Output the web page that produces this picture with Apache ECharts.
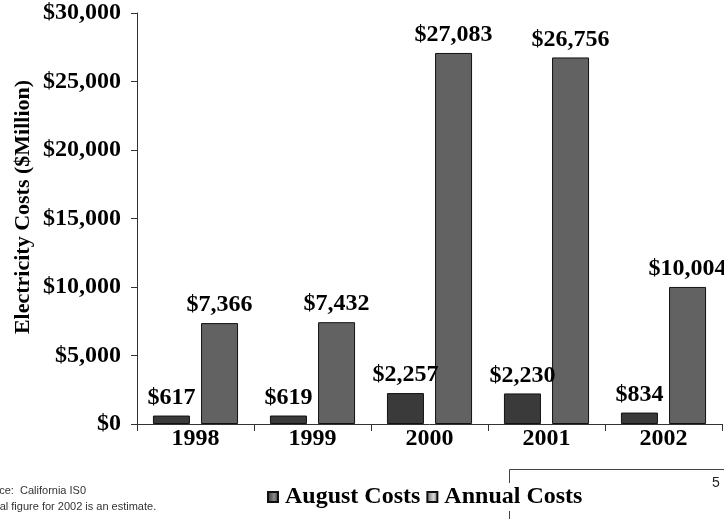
<!DOCTYPE html>
<html>
<head>
<meta charset="utf-8">
<script src="https://cdn.jsdelivr.net/npm/echarts@6/dist/echarts.min.js"></script>
<style>
  html, body { margin: 0; padding: 0; background: #fff; }
  #chart { width: 724px; height: 519px; }
</style>
</head>
<body>
<div id="chart"></div>
<script>
// Electricity costs by year, $ million
const years = ['1998', '1999', '2000', '2001', '2002'];
const augustCosts = [617, 619, 2257, 2230, 834];
const annualCosts = [7366, 7432, 27083, 26756, 10004];
const seriesNames = ['August Costs', 'Annual Costs'];
const yTicks = { min: 0, max: 30000, step: 5000 };

const serif = '"Liberation Serif", "Times New Roman", serif';
const sans = '"Liberation Sans", Arial, sans-serif';
const money = v => '$' + Number(v).toLocaleString('en-US');

const labelStyle = {
  show: true,
  position: 'top',
  distance: 6,
  fontFamily: serif,
  fontWeight: 'bold',
  fontSize: 24,
  color: '#000',
  formatter: p => money(p.value)
};

const legendSwatch = (dark, light) => ({
  type: 'linear', x: 0, y: 0, x2: 1, y2: 0,
  colorStops: [{ offset: 0, color: dark }, { offset: 0.6, color: light }, { offset: 1, color: dark }]
});

const chart = echarts.init(document.getElementById('chart'));
chart.setOption({
  animation: false,
  backgroundColor: '#fff',
  grid: { left: 137, right: 2, top: 13, bottom: 95 },
  legend: {
    top: 483,
    left: 264,
    padding: [2, 3, 2, 3],
    backgroundColor: '#fff',
    itemWidth: 10,
    itemHeight: 10,
    itemGap: 6,
    icon: 'rect',
    textStyle: { fontFamily: serif, fontWeight: 'bold', fontSize: 24, color: '#000', padding: [0, 0, 0, 2] },
    data: [
      { name: seriesNames[0], itemStyle: { color: legendSwatch('#2e2e2e', '#8a8a8a') } },
      { name: seriesNames[1], itemStyle: { color: legendSwatch('#6a6a6a', '#d8d8d8') } }
    ]
  },
  xAxis: {
    type: 'category',
    data: years,
    axisLine: { lineStyle: { color: '#333', width: 1 } },
    axisTick: { show: true, length: 7, lineStyle: { color: '#333' } },
    axisLabel: { margin: 3, fontFamily: serif, fontWeight: 'bold', fontSize: 24, color: '#000' }
  },
  yAxis: {
    type: 'value',
    min: yTicks.min,
    max: yTicks.max,
    interval: yTicks.step,
    axisLine: { show: true, lineStyle: { color: '#333', width: 1 } },
    axisTick: { show: true, length: 6, lineStyle: { color: '#333' } },
    splitLine: { show: false },
    axisLabel: { margin: 16, fontFamily: serif, fontWeight: 'bold', fontSize: 24, color: '#000', formatter: money }
  },
  series: [
    {
      name: seriesNames[0],
      type: 'bar',
      data: augustCosts,
      barWidth: 37,
      barGap: '30%',
      itemStyle: { color: '#3a3a3a', borderColor: '#111', borderWidth: 1 },
      label: labelStyle
    },
    {
      name: seriesNames[1],
      type: 'bar',
      data: annualCosts,
      barWidth: 37,
      barGap: '30%',
      itemStyle: { color: '#626262', borderColor: '#111', borderWidth: 1 },
      label: labelStyle
    }
  ],
  graphic: [
    {
      type: 'text',
      x: 23, y: 207,
      rotation: Math.PI / 2,
      style: {
        text: 'Electricity Costs ($Million)',
        fontFamily: serif, fontWeight: 'bold', fontSize: 22, fill: '#000',
        textAlign: 'center', textVerticalAlign: 'middle'
      }
    },
    {
      type: 'text', left: -24, top: 485,
      style: { text: 'Source:  California IS0', fontFamily: sans, fontSize: 11, fill: '#333' }
    },
    {
      type: 'text', left: -26, top: 501,
      style: { text: 'Annual figure for 2002 is an estimate.', fontFamily: sans, fontSize: 11, fill: '#333' }
    },
    {
      type: 'polyline', z: -1,
      shape: { points: [[509.5, 519], [509.5, 469.5], [724, 469.5]] },
      style: { stroke: '#444', lineWidth: 1, fill: null }
    },
    {
      type: 'text', left: 712, top: 476,
      style: { text: '5', fontFamily: sans, fontSize: 14, fill: '#222' }
    }
  ]
});
</script>
</body>
</html>
